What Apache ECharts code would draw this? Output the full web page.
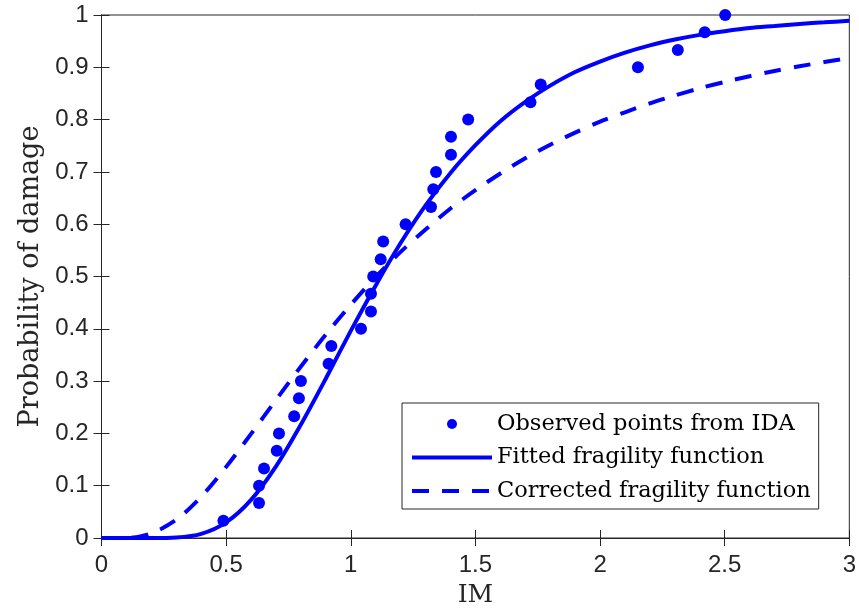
<!DOCTYPE html>
<html>
<head>
<meta charset="utf-8">
<script src="https://cdn.jsdelivr.net/npm/echarts@6/dist/echarts.min.js"></script>
<style>
html, body { margin: 0; padding: 0; background: #fff; }
#chart { width: 859px; height: 616px; }
</style>
</head>
<body>
<div id="chart"></div>
<script>
// observed points from IDA
var obsIM = [0.489, 0.632, 0.632, 0.652, 0.703, 0.712, 0.773, 0.792, 0.800, 0.911,
             0.922, 1.041, 1.081, 1.081, 1.090, 1.120, 1.130, 1.220, 1.322, 1.331,
             1.342, 1.402, 1.402, 1.471, 1.721, 1.762, 2.152, 2.312, 2.420, 2.502];
var obsP = [0.033, 0.067, 0.100, 0.133, 0.167, 0.200, 0.233, 0.267, 0.300, 0.333,
            0.367, 0.400, 0.433, 0.467, 0.500, 0.533, 0.567, 0.600, 0.633, 0.667,
            0.700, 0.733, 0.767, 0.800, 0.833, 0.867, 0.900, 0.933, 0.967, 1.000];

// curves, read at IM = 0, 0.1, ... 3
var curveIM = [0, 0.1, 0.2, 0.3, 0.4, 0.5, 0.6, 0.7, 0.8, 0.9, 1.0, 1.1, 1.2, 1.3, 1.4, 1.5,
               1.6, 1.7, 1.8, 1.9, 2.0, 2.1, 2.2, 2.3, 2.4, 2.5, 2.6, 2.7, 2.8, 2.9, 3.0];
var fittedP = [0, 0, 0, 0.001, 0.008, 0.030, 0.073, 0.137, 0.217, 0.305, 0.396, 0.483, 0.564,
               0.636, 0.698, 0.751, 0.797, 0.834, 0.865, 0.891, 0.911, 0.928, 0.942, 0.953,
               0.962, 0.969, 0.975, 0.979, 0.983, 0.986, 0.989];
var correctedP = [0, 0.000, 0.009, 0.035, 0.079, 0.136, 0.199, 0.264, 0.328, 0.389, 0.446,
                  0.499, 0.547, 0.590, 0.630, 0.665, 0.697, 0.726, 0.752, 0.775, 0.796,
                  0.814, 0.831, 0.846, 0.860, 0.872, 0.883, 0.893, 0.902, 0.910, 0.918];

var legendNames = ['Observed points from IDA', 'Fitted fragility function', 'Corrected fragility function'];

function pairs(xs, ys) {
    var out = [];
    for (var i = 0; i < xs.length; i++) out.push([xs[i], ys[i]]);
    return out;
}

var axisColor = '#262626';
var serif = 'DejaVu Serif';
var dashPattern = [17, 13];
var chart = echarts.init(document.getElementById('chart'));

var option = {
    animation: false,
    grid: {
        left: 101.5, right: 7.5, top: 15, bottom: 78,
        show: true, borderColor: axisColor, borderWidth: 1
    },
    legend: {
        data: [
            { name: legendNames[0] },
            { name: legendNames[1], itemStyle: { opacity: 0 },
              lineStyle: { width: 4, color: '#0000ff' } },
            { name: legendNames[2], itemStyle: { opacity: 0 },
              lineStyle: { width: 4, color: '#0000ff', type: dashPattern } }
        ],
        orient: 'vertical',
        left: 402, top: 403,
        padding: [9, 8, 6, 8],
        itemWidth: 80,
        itemHeight: 10,
        itemGap: 9.5,
        borderColor: axisColor,
        borderWidth: 1,
        backgroundColor: '#fff',
        textStyle: {
            fontFamily: serif,
            fontSize: 22.5,
            color: '#000',
            lineHeight: 24
        }
    },
    xAxis: [{
        type: 'value',
        min: 0, max: 3, interval: 0.5,
        name: 'IM',
        nameLocation: 'middle',
        nameGap: 45,
        nameTextStyle: { fontFamily: serif, fontSize: 25, color: axisColor },
        axisLine: { lineStyle: { color: axisColor, width: 1 } },
        axisTick: { inside: true, length: 8, lineStyle: { color: axisColor } },
        axisLabel: { fontFamily: 'Liberation Sans', fontSize: 24, color: axisColor, margin: 15 },
        splitLine: { show: false }
    }, {
        type: 'value', position: 'top',
        min: 0, max: 3, interval: 0.5,
        axisLine: { lineStyle: { color: axisColor } },
        axisTick: { inside: true, length: 8, lineStyle: { color: axisColor } },
        axisLabel: { show: false },
        splitLine: { show: false }
    }],
    yAxis: [{
        type: 'value',
        min: 0, max: 1, interval: 0.1,
        name: 'Probability of damage',
        nameLocation: 'middle',
        nameGap: 57,
        nameTextStyle: { fontFamily: serif, fontSize: 27, color: axisColor },
        axisLine: { lineStyle: { color: axisColor, width: 1 } },
        axisTick: { inside: true, length: 8, lineStyle: { color: axisColor } },
        axisLabel: {
            fontFamily: 'Liberation Sans', fontSize: 24, color: axisColor, margin: 13,
            formatter: function (v) { return +v.toFixed(1) + ''; }
        },
        splitLine: { show: false }
    }, {
        type: 'value', position: 'right',
        min: 0, max: 1, interval: 0.1,
        axisLine: { lineStyle: { color: axisColor } },
        axisTick: { inside: true, length: 8, lineStyle: { color: axisColor } },
        axisLabel: { show: false },
        splitLine: { show: false }
    }],
    series: [{
        name: legendNames[0],
        type: 'scatter',
        symbol: 'circle',
        symbolSize: 12,
        itemStyle: { color: '#0000ff', opacity: 1 },
        data: pairs(obsIM, obsP),
        z: 3
    }, {
        name: legendNames[1],
        type: 'line',
        smooth: 0.3,
        symbol: 'none',
        lineStyle: { color: '#0000ff', width: 4 },
        itemStyle: { color: '#0000ff' },
        data: pairs(curveIM, fittedP)
    }, {
        name: legendNames[2],
        type: 'line',
        xAxisIndex: 1,
        yAxisIndex: 1,
        smooth: 0.3,
        symbol: 'none',
        lineStyle: { color: '#0000ff', width: 4, type: dashPattern },
        itemStyle: { color: '#0000ff' },
        data: pairs(curveIM, correctedP)
    }]
};
chart.setOption(option);
</script>
</body>
</html>
